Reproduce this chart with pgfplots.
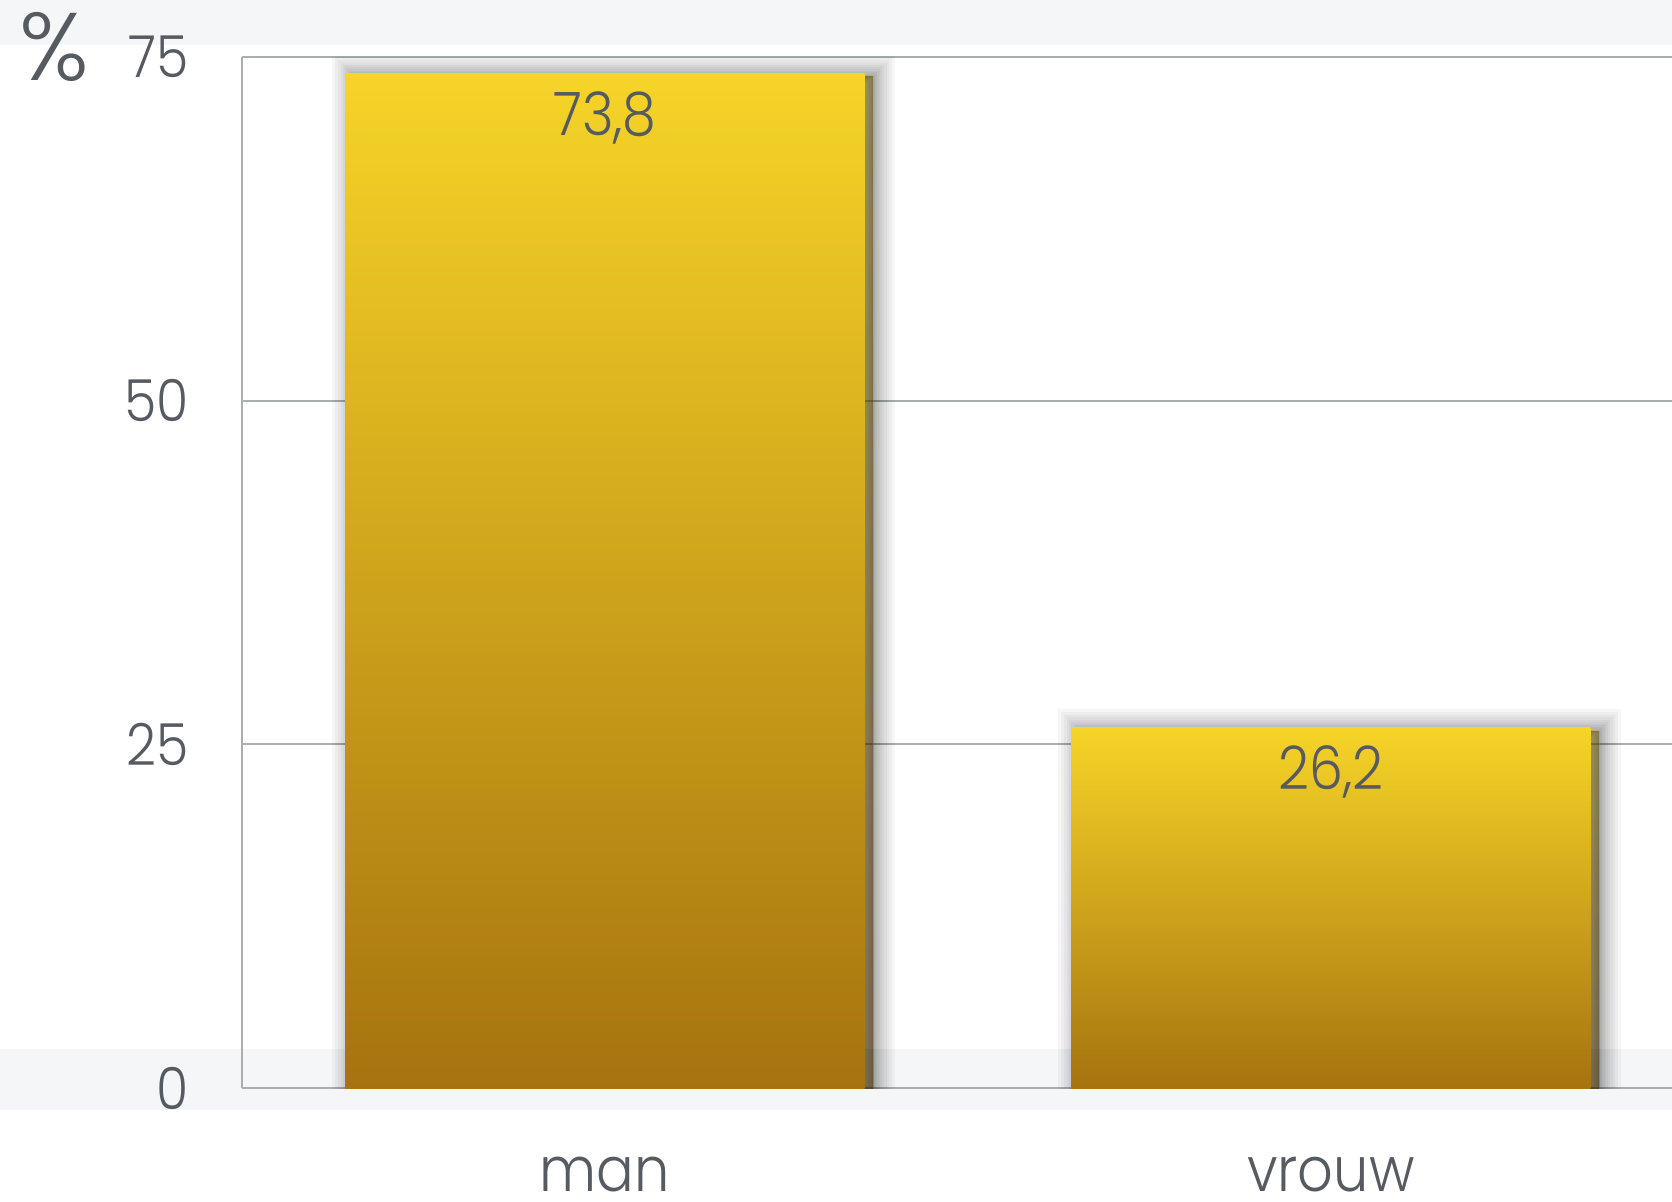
\documentclass[border=0pt]{standalone}
\usepackage{fontspec}
\setmainfont{Poppins}[UprightFont={* Light}, FakeStretch=0.9]
\newfontfamily\pctfont{Poppins}[UprightFont={* Light}]
\usepackage{pgfplots}
\pgfplotsset{compat=1.18}
\definecolor{txt}{HTML}{555B61}
\definecolor{band}{HTML}{F5F6F8}
\definecolor{gridc}{HTML}{AAAEAE}
\definecolor{ytop}{HTML}{F6D428}
\definecolor{ybot}{HTML}{A6730F}
\tikzset{shlayer/.style={preaction={draw=black, fill=black, draw opacity=0.035, fill opacity=0.035, line width=#1, transform canvas={xshift=4.5pt, yshift=-1.5pt}}},
  barshade/.style={draw=none, top color=ytop, bottom color=ybot, bar shift=0pt,
  shlayer=22pt, shlayer=19pt, shlayer=16pt, shlayer=13.5pt, shlayer=11pt, shlayer=9pt, shlayer=7pt, shlayer=5.5pt, shlayer=4pt, shlayer=2.5pt, shlayer=1.2pt, shlayer=0.3pt}}
\begin{document}
\begin{tikzpicture}[x=1pt,y=1pt]
\path[use as bounding box] (0,0) rectangle (836,600.5);
\fill[band] (0,578) rectangle (836,600.5);
\fill[band] (0,45.5) rectangle (836,76);
\begin{axis}[
  at={(121pt,56.5pt)}, anchor=south west,
  scale only axis, width=715pt, height=515.5pt,
  xmin=-0.5, xmax=1.47, ymin=0, ymax=75,
  ytick={0,25,50,75}, xtick={0,1}, xticklabels={man,vrouw},
  axis x line*=bottom, axis y line*=left,
  ymajorgrids, grid style={gridc, line width=1pt},
  axis line style={gridc, line width=1pt},
  major tick length=0pt,
  /pgf/number format/assume math mode=true,
  yticklabel style={font=\fontsize{29}{31}\selectfont, text=txt, anchor=east, xshift=-23pt},
  xticklabel style={font=\fontsize{31}{34}\selectfont, text=txt, anchor=base, inner sep=0pt, yshift=-51.5pt},
  ybar, bar width=259.5pt,
  nodes near coords={\pgfmathprintnumber[fixed,fixed zerofill,precision=1,use comma]{\pgfplotspointmeta}},
  every node near coord/.append style={anchor=center, yshift=-22pt, font=\fontsize{30}{33}\selectfont, text=txt},
]
\addplot[barshade] coordinates {(0,73.8)};
\addplot[barshade] coordinates {(1,26.2)};
\end{axis}
\node[text=txt, font=\pctfont\fontsize{48}{52}\selectfont] at (27.2,577) {\%};
\end{tikzpicture}
\end{document}
